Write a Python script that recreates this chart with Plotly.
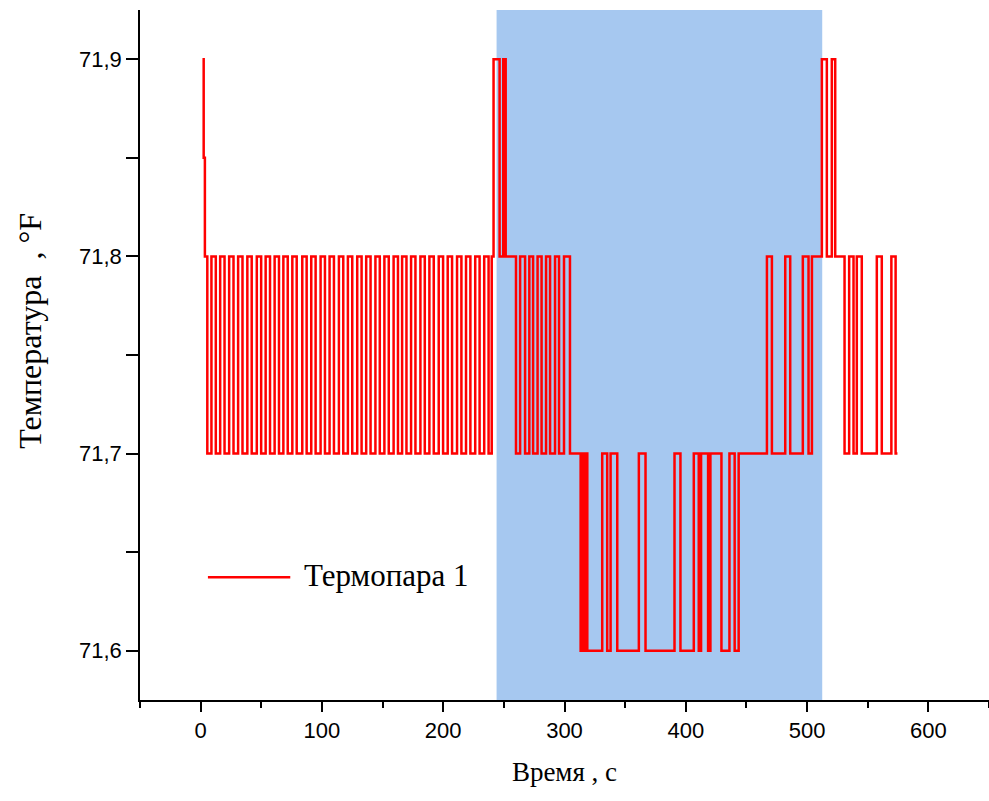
import plotly.graph_objects as go

# Change points of the step series (time, s) and the level held from that time (°F)
times = [1.5, 2.5, 3.5, 5.5,
         8.9, 12.5, 16.1, 19.7, 23.5, 27.1, 30.9, 34.5, 38.5, 42.1, 46.3, 49.9,
         53.6, 57.2, 61.0, 64.6, 68.2, 71.8, 75.6, 79.2, 83.8, 87.4, 91.2, 94.8,
         98.9, 102.5, 106.3, 109.9, 114.0, 117.6, 121.4, 125.0, 129.1, 132.7,
         136.5, 140.1, 144.1, 147.7, 151.5, 155.1, 159.1, 162.7, 166.1, 169.7,
         173.5, 177.1, 181.2, 184.8, 188.6, 192.2, 196.3, 199.9, 203.7, 207.3,
         211.4, 215.0, 218.8, 222.4, 226.4, 230.0, 233.8, 237.4,
         240.0, 241.5, 246.5, 249.5, 251.5, 260.0,
         263.4, 267.5, 271.0, 274.1, 277.8, 281.1, 284.8, 288.1, 292.2, 295.5,
         299.6, 304.5,
         313.3, 314.8, 316.0, 317.0, 318.8, 331.1, 335.2, 338.0, 343.5, 361.3,
         366.8, 390.7, 395.6, 406.6, 410.7, 412.6, 418.4, 420.3, 429.4, 436.0,
         440.3, 443.6,
         466.9, 471.0, 482.0, 486.1, 496.5, 501.2, 504.0, 512.2, 516.3, 520.4,
         523.2, 530.9, 534.7, 538.3, 541.0, 545.1, 557.5, 561.6, 569.5, 573.0,
         574.5]
temps = [71.9, 71.85, 71.8, 71.7,
         71.8, 71.7, 71.8, 71.7, 71.8, 71.7, 71.8, 71.7, 71.8, 71.7, 71.8, 71.7,
         71.8, 71.7, 71.8, 71.7, 71.8, 71.7, 71.8, 71.7, 71.8, 71.7, 71.8, 71.7,
         71.8, 71.7, 71.8, 71.7, 71.8, 71.7, 71.8, 71.7, 71.8, 71.7,
         71.8, 71.7, 71.8, 71.7, 71.8, 71.7, 71.8, 71.7, 71.8, 71.7,
         71.8, 71.7, 71.8, 71.7, 71.8, 71.7, 71.8, 71.7, 71.8, 71.7,
         71.8, 71.7, 71.8, 71.7, 71.8, 71.7, 71.8, 71.7,
         71.8, 71.9, 71.8, 71.9, 71.8, 71.7,
         71.8, 71.7, 71.8, 71.7, 71.8, 71.7, 71.8, 71.7, 71.8, 71.7,
         71.8, 71.7,
         71.6, 71.7, 71.6, 71.7, 71.6, 71.7, 71.6, 71.7, 71.6, 71.7,
         71.6, 71.7, 71.6, 71.7, 71.6, 71.7, 71.6, 71.7, 71.6, 71.7,
         71.6, 71.7,
         71.8, 71.7, 71.8, 71.7, 71.8, 71.7, 71.8, 71.9, 71.8, 71.9,
         71.8, 71.7, 71.8, 71.7, 71.8, 71.7, 71.8, 71.7, 71.8, 71.7,
         71.7]

highlight_start = 244
highlight_end = 512.5
series_name = "Термопара 1"
x_title = "Время , с"
y_title = "Температура  , °F"
x_ticks = [0, 100, 200, 300, 400, 500, 600]
y_ticks = [71.6, 71.7, 71.8, 71.9]

fig = go.Figure()
fig.add_trace(go.Scatter(
    x=times, y=temps, mode="lines", line_shape="hv",
    line=dict(color="#ff0000", width=2.5), name=series_name, showlegend=False,
))

fig.add_shape(type="rect", xref="x", yref="paper", x0=highlight_start, x1=highlight_end,
              y0=0, y1=1, fillcolor="#a6c8f0", line_width=0, layer="below")

# legend drawn as sample line + text
fig.add_shape(type="line", xref="paper", yref="paper", x0=0.080, x1=0.177, y0=0.178, y1=0.178,
              line=dict(color="#ff0000", width=2.5))
fig.add_annotation(xref="paper", yref="paper", x=0.191, y=0.18, text=series_name,
                   showarrow=False, xanchor="left", yanchor="middle",
                   font=dict(family="Liberation Serif, Times New Roman, serif", size=31, color="black"))

# y-axis title
fig.add_annotation(xref="paper", yref="paper", x=-0.1296, y=0.535, text=y_title,
                   showarrow=False, textangle=-90, xanchor="center", yanchor="middle",
                   font=dict(family="Liberation Serif, Times New Roman, serif", size=32, color="black"))

tickfont = dict(family="Liberation Sans, Arial, sans-serif", size=22, color="black")
xtitlefont = dict(family="Liberation Serif, Times New Roman, serif", size=27, color="black")

fig.update_xaxes(range=[-50, 650], tickvals=x_ticks, ticks="outside", ticklen=10, tickwidth=1.5,
                 tickcolor="black", showline=True, linecolor="black", linewidth=1.5,
                 showgrid=False, zeroline=False, tickfont=tickfont,
                 minor=dict(tickvals=[-50, 50, 150, 250, 350, 450, 550, 650], ticks="outside",
                            ticklen=6, tickwidth=1.5, tickcolor="black", showgrid=False),
                 title=dict(text=x_title, font=xtitlefont, standoff=20))
fig.update_yaxes(range=[71.575, 71.925], tickvals=y_ticks, tickformat=".1f", ticks="outside",
                 ticklen=12, tickwidth=1.5, tickcolor="black", showline=True, linecolor="black",
                 linewidth=1.5, showgrid=False, zeroline=False, tickfont=tickfont,
                 minor=dict(tickvals=[71.65, 71.75, 71.85], ticks="outside", ticklen=12,
                            tickwidth=1.5, tickcolor="black", showgrid=False))

fig.update_layout(
    width=989, height=801, separators=", ",
    margin=dict(l=140, r=0, t=10, b=101),
    plot_bgcolor="white", paper_bgcolor="white",
)

fig.write_html("out.html")
